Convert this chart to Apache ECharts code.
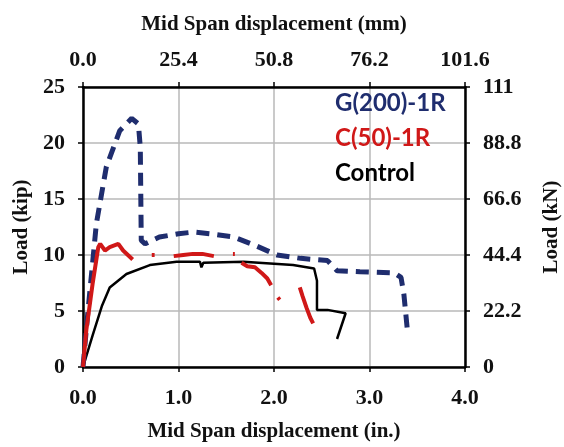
<!DOCTYPE html>
<html>
<head>
<meta charset="utf-8">
<script src="https://cdn.jsdelivr.net/npm/echarts@6/dist/echarts.min.js"></script>
<style>
  html, body { margin: 0; padding: 0; background: #fff; }
  #chart { width: 564px; height: 447px; }
</style>
</head>
<body>
<div id="chart"></div>
<script>
// displacement (in.), load (kip)
var g200 = [
  [0, 0], [0.05, 4.8], [0.14, 12.8], [0.245, 17.9], [0.385, 21.1], [0.51, 22.2],
  [0.58, 21.7], [0.6, 19.6], [0.61, 11.3], [0.65, 11.0], [0.8, 11.6], [1.0, 11.9],
  [1.16, 12.05], [1.33, 11.9], [1.58, 11.6], [1.79, 10.9], [2.03, 10.0], [2.28, 9.7],
  [2.56, 9.5], [2.66, 8.6], [2.9, 8.5], [3.26, 8.4], [3.33, 8.0], [3.36, 6.5], [3.4, 3.0]
];
var c50 = [
  [0, 0], [0.035, 3.3], [0.1, 7.4], [0.16, 10.7], [0.18, 11.0], [0.23, 10.4], [0.28, 10.7],
  [0.37, 11.0], [0.42, 10.4], [0.47, 10.0], [0.52, 9.6], [0.53, '-'],
  [0.72, 10.0], [0.75, 10.0], [0.8, '-'],
  [0.95, 9.9], [1.05, 10.0], [1.15, 10.1], [1.25, 10.1], [1.37, 9.9], [1.4, '-'],
  [1.57, 10.1], [1.59, 10.1], [1.6, '-'],
  [1.66, 9.3], [1.72, 9.0], [1.8, 8.9], [1.87, 8.4], [1.93, 7.9], [1.97, 7.3], [2.0, '-'],
  [2.04, 6.2], [2.06, 6.0], [2.1, '-'],
  [2.27, 7.1], [2.3, 6.3], [2.34, 5.3], [2.38, 4.4], [2.41, 3.9]
];
var control = [
  [0, 0], [0.1, 2.8], [0.2, 5.5], [0.28, 7.1], [0.455, 8.3], [0.7, 9.1], [0.98, 9.4],
  [1.225, 9.4], [1.24, 8.9], [1.26, 9.3], [1.68, 9.4], [2.2, 9.1], [2.42, 8.8],
  [2.45, 7.7], [2.45, 5.1], [2.56, 5.1], [2.75, 4.8], [2.66, 2.5]
];
var seriesNames = ['G(200)-1R', 'C(50)-1R', 'Control'];
var seriesColors = ['#1f2d6e', '#d01818', '#000000'];
var rightLabels = ['0', '22.2', '44.4', '66.6', '88.8', '111'];
var topLabels = ['0.0', '25.4', '50.8', '76.2', '101.6'];

var serif = 'Liberation Serif';
var axisText = { fontFamily: serif, fontWeight: 'bold', fontSize: 22, color: '#111' };
var nameText = { fontFamily: serif, fontWeight: 'bold', fontSize: 21, color: '#111' };
var axLine = { show: true, onZero: false, lineStyle: { color: '#000', width: 2.5 } };
var tick = { show: true, length: 5, lineStyle: { color: '#000', width: 1.5 } };
var grid = { show: true, lineStyle: { color: '#b8b8b8', width: 1.5 } };

var chart = echarts.init(document.getElementById('chart'));
chart.setOption({
  animation: false,
  backgroundColor: '#fff',
  grid: { left: 83, right: 99, top: 87, bottom: 80, containLabel: false, outerBoundsMode: 'none' },
  legend: {
    orient: 'vertical',
    left: 325,
    top: 86,
    itemGap: 11,
    itemWidth: 0,
    itemHeight: 0,
    icon: 'none',
    selectedMode: false,
    data: seriesNames.map(function (n, i) {
      return { name: n, textStyle: { color: seriesColors[i] } };
    }),
    textStyle: { fontFamily: 'Lato', fontWeight: 'bold', fontSize: 24 }
  },
  xAxis: [
    {
      type: 'value', position: 'bottom', min: 0, max: 4, interval: 1,
      name: 'Mid Span displacement (in.)', nameLocation: 'middle', nameGap: 54,
      nameTextStyle: nameText,
      axisLine: axLine, axisTick: tick,
      axisLabel: Object.assign({ margin: 20, formatter: function (v) { return v.toFixed(1); } }, axisText),
      splitLine: grid
    },
    {
      type: 'value', position: 'top', min: 0, max: 101.6, interval: 25.4,
      name: 'Mid Span displacement (mm)', nameLocation: 'middle', nameGap: 52,
      nameTextStyle: nameText,
      axisLine: axLine, axisTick: tick,
      axisLabel: Object.assign({ margin: 16, formatter: function (v, i) { return topLabels[i]; } }, axisText),
      splitLine: { show: false }
    }
  ],
  yAxis: [
    {
      type: 'value', position: 'left', min: 0, max: 25, interval: 5,
      name: 'Load (kip)', nameLocation: 'middle', nameGap: 50, nameRotate: 90,
      nameTextStyle: nameText,
      axisLine: axLine, axisTick: tick,
      axisLabel: Object.assign({ margin: 18 }, axisText),
      splitLine: grid
    },
    {
      type: 'value', position: 'right', min: 0, max: 111, interval: 22.2,
      name: 'Load (kN)', nameLocation: 'middle', nameGap: 76, nameRotate: 90,
      nameTextStyle: nameText,
      axisLine: axLine, axisTick: tick,
      axisLabel: Object.assign({ margin: 18, formatter: function (v, i) { return rightLabels[i]; } }, axisText),
      splitLine: { show: false }
    }
  ],
  series: [
    {
      name: seriesNames[0], type: 'line', data: g200, showSymbol: false, symbol: 'none',
      lineStyle: { color: seriesColors[0], width: 5, type: [13, 8] },
      itemStyle: { color: seriesColors[0] }, z: 3
    },
    {
      name: seriesNames[1], type: 'line', data: c50, showSymbol: false, symbol: 'none',
      lineStyle: { color: seriesColors[1], width: 4 },
      itemStyle: { color: seriesColors[1] }, z: 4
    },
    {
      name: seriesNames[2], type: 'line', data: control, showSymbol: false, symbol: 'none',
      lineStyle: { color: seriesColors[2], width: 2.5 },
      itemStyle: { color: seriesColors[2] }, z: 2
    }
  ]
});
</script>
</body>
</html>
